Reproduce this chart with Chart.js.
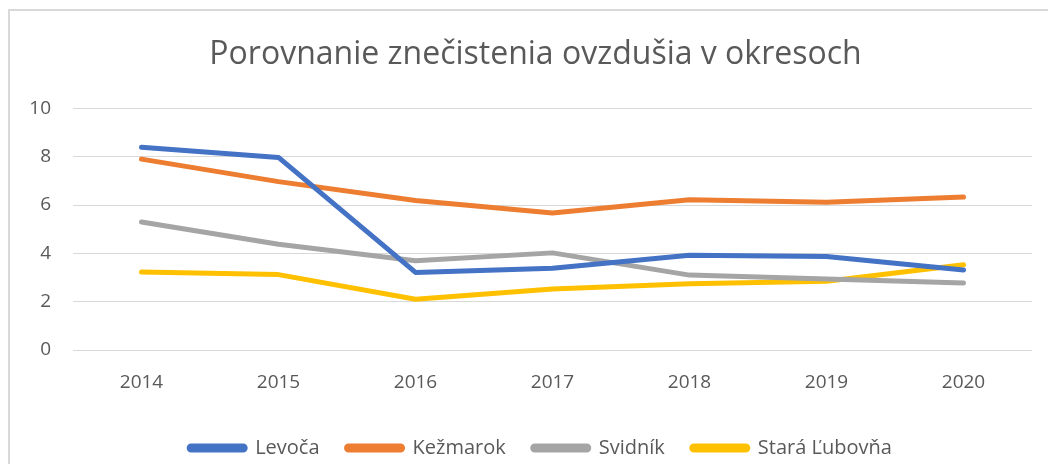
<!DOCTYPE html>
<html lang="sk">
<head>
<meta charset="UTF-8">
<title>Porovnanie znečistenia ovzdušia v okresoch</title>
<script src="https://cdn.jsdelivr.net/npm/chart.js@4.4.0/dist/chart.umd.min.js"></script>
<style>
  html, body { margin: 0; padding: 0; background: #fff; overflow: hidden; }
  #wrap { position: relative; width: 1048px; height: 464px; }
  #frame { position: absolute; left: 8px; top: 9px; width: 1100px; height: 500px;
           border: 2px solid #d9d9d9; box-sizing: border-box; }
  canvas { position: absolute; left: 0; top: 0; }
</style>
</head>
<body>
<div id="wrap">
  <div id="frame"></div>
  <canvas id="chart" width="1048" height="464"></canvas>
</div>
<script>
const years = ['2014', '2015', '2016', '2017', '2018', '2019', '2020'];
const levoca = [8.39, 7.97, 3.21, 3.38, 3.92, 3.87, 3.31];
const kezmarok = [7.90, 6.97, 6.19, 5.67, 6.22, 6.12, 6.33];
const svidnik = [5.30, 4.38, 3.69, 4.02, 3.10, 2.94, 2.77];
const staraLubovna = [3.23, 3.12, 2.10, 2.52, 2.74, 2.85, 3.53];
const yTicks = [0, 2, 4, 6, 8, 10];

const textColor = '#595959';
Chart.defaults.font.family = "'Open Sans', 'DejaVu Sans', sans-serif";
Chart.defaults.color = textColor;

function series(label, data, color) {
  return {
    label: label,
    data: data,
    borderColor: color,
    backgroundColor: color,
    borderWidth: 5,
    pointRadius: 0,
    pointHoverRadius: 0,
    tension: 0,
    borderCapStyle: 'round',
    borderJoinStyle: 'round'
  };
}

// nudge title and legend a bit to the right / down, like the Excel original
const nudge = {
  id: 'nudge',
  afterLayout(chart) {
    const t = chart.titleBlock, l = chart.legend;
    if (t) { t.left += 6; t.right += 6; }
    if (l) { l.left += 11; l.right += 11; l.top += 4; l.bottom += 4; }
  }
};

const ctx = document.getElementById('chart').getContext('2d');
new Chart(ctx, {
  type: 'line',
  data: {
    labels: years,
    datasets: [
      series('Levoča', levoca, '#4472C4'),
      series('Kežmarok', kezmarok, '#ED7D31'),
      series('Svidník', svidnik, '#A5A5A5'),
      series('Stará Ľubovňa', staraLubovna, '#FFC000')
    ]
  },
  plugins: [nudge],
  options: {
    responsive: false,
    animation: false,
    layout: { padding: { left: 27, right: 16, top: 10, bottom: 0 } },
    plugins: {
      title: {
        display: true,
        text: 'Porovnanie znečistenia ovzdušia v okresoch',
        color: textColor,
        font: { size: 32, weight: 'normal' },
        padding: { top: 26, bottom: 34 }
      },
      legend: {
        position: 'bottom',
        labels: {
          boxWidth: 56,
          boxHeight: 4,
          padding: 27,
          color: textColor,
          font: { size: 20 },
          useBorderRadius: true,
          borderRadius: 2
        }
      },
      tooltip: { enabled: false }
    },
    scales: {
      x: {
        offset: true,
        grid: { display: false, drawTicks: false },
        border: { display: false },
        ticks: { padding: 21, font: { size: 19 }, color: textColor },
        afterFit: s => { s.height = 57; }
      },
      y: {
        min: 0,
        max: 10,
        afterBuildTicks: s => { s.ticks = yTicks.map(v => ({ value: v })); },
        grid: { color: '#d9d9d9', lineWidth: 1, drawTicks: false },
        border: { display: false },
        ticks: { padding: 22, font: { size: 19 }, color: textColor },
        afterFit: s => { s.width = 46; }
      }
    }
  }
});
</script>
</body>
</html>
